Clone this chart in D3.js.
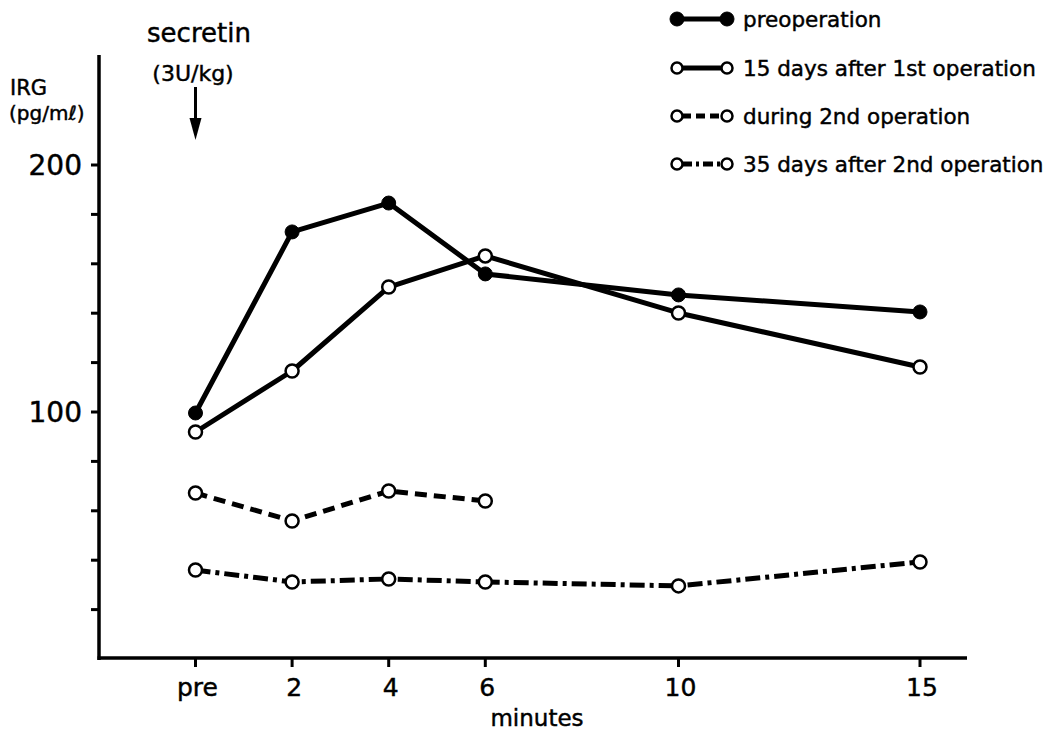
<!DOCTYPE html>
<html lang="en">
<head>
    <meta charset="UTF-8">
    <title>IRG response to secretin</title>
    <style>
        body { margin: 0; background: #fff; }
        text { font-family: "DejaVu Sans", "Liberation Sans", sans-serif; fill: #000; }
        .lbl { stroke: #000; stroke-width: 0.45px; }
    </style>
</head>
<body>
    <div id="chart"></div>

    <script src="https://d3js.org/d3.v7.min.js"></script>
    <script>
        // minutes after secretin (pre = 0)
        const minutes = [0, 2, 4, 6, 10, 15];
        const tickLabels = ["pre", "2", "4", "6", "10", "15"];
        const yTicks = [20, 40, 60, 80, 100, 120, 140, 160, 180, 200];
        const yLabels = [100, 200];

        const preoperation = [99.6, 172.9, 184.6, 155.9, 147.4, 140.5];
        const after1st = [91.9, 116.6, 150.6, 163.2, 140.1, 118.2];
        const during2nd = [67.2, 55.9, 68.0, 64.0];
        const after2nd = [36.0, 31.2, 32.4, 31.2, 29.6, 39.3];

        const seriesNames = [
            "preoperation",
            "15 days after 1st operation",
            "during 2nd operation",
            "35 days after 2nd operation"
        ];

        const width = 1057;
        const height = 734;

        const svg = d3.select("#chart").append("svg")
            .attr("width", width)
            .attr("height", height);

        const x = d3.scaleLinear().domain([0, 15]).range([195.5, 920]);
        const y = d3.scaleLinear().domain([0, 200]).range([659, 165]);

        const axisX = 99;
        const axisTop = 55;
        const axisY = 658;
        const axisRight = 967;

        // axes lines
        svg.append("line")
            .attr("x1", axisX).attr("x2", axisX)
            .attr("y1", axisTop).attr("y2", axisY + 2)
            .attr("stroke", "#000").attr("stroke-width", 3.5);
        svg.append("line")
            .attr("x1", axisX - 1.5).attr("x2", axisRight)
            .attr("y1", axisY).attr("y2", axisY)
            .attr("stroke", "#000").attr("stroke-width", 3.5);

        // y ticks
        svg.selectAll(".ytick")
            .data(yTicks)
            .enter()
            .append("line")
            .attr("x1", axisX - 8).attr("x2", axisX)
            .attr("y1", d => y(d)).attr("y2", d => y(d))
            .attr("stroke", "#000").attr("stroke-width", 3);

        svg.selectAll(".ylabel")
            .data(yLabels)
            .enter()
            .append("text")
            .attr("class", "lbl")
            .attr("x", 82)
            .attr("y", d => y(d) + 10)
            .attr("text-anchor", "end")
            .attr("font-size", 28)
            .text(d => d);

        // x ticks
        svg.selectAll(".xtick")
            .data(minutes)
            .enter()
            .append("line")
            .attr("x1", d => x(d)).attr("x2", d => x(d))
            .attr("y1", axisY).attr("y2", axisY + 9)
            .attr("stroke", "#000").attr("stroke-width", 3);

        svg.selectAll(".xlabel")
            .data(minutes)
            .enter()
            .append("text")
            .attr("class", "lbl")
            .attr("x", d => x(d) + 2)
            .attr("y", 696)
            .attr("text-anchor", "middle")
            .attr("font-size", 25)
            .text((d, i) => tickLabels[i]);

        svg.append("text")
            .attr("class", "lbl")
            .attr("x", 537).attr("y", 726)
            .attr("text-anchor", "middle")
            .attr("font-size", 23)
            .text("minutes");

        // y axis title
        svg.append("text").attr("class", "lbl")
            .attr("x", 10).attr("y", 95).attr("font-size", 21).text("IRG");
        svg.append("text").attr("class", "lbl")
            .attr("x", 9).attr("y", 120).attr("font-size", 20).text("(pg/mℓ)");

        // secretin annotation
        svg.append("text").attr("class", "lbl")
            .attr("x", 199).attr("y", 42)
            .attr("text-anchor", "middle").attr("font-size", 26).text("secretin");
        svg.append("text").attr("class", "lbl")
            .attr("x", 193).attr("y", 81)
            .attr("text-anchor", "middle").attr("font-size", 22).text("(3U/kg)");
        svg.append("line")
            .attr("x1", x(0)).attr("x2", x(0))
            .attr("y1", 87).attr("y2", 120)
            .attr("stroke", "#000").attr("stroke-width", 3);
        svg.append("path")
            .attr("d", `M${x(0) - 6},118 L${x(0) + 6},118 L${x(0)},140 Z`)
            .attr("fill", "#000");

        const line = d3.line()
            .x(d => x(d[0]))
            .y(d => y(d[1]));

        const series = [
            { values: preoperation, dash: null, filled: true },
            { values: after1st, dash: null, filled: false },
            { values: during2nd, dash: "12,7", filled: false },
            { values: after2nd, dash: "15,5,4,5", filled: false }
        ];

        series.forEach(s => {
            const pts = s.values.map((v, i) => [minutes[i], v]);
            svg.append("path")
                .datum(pts)
                .attr("d", line)
                .attr("fill", "none")
                .attr("stroke", "#000")
                .attr("stroke-width", 5)
                .attr("stroke-linejoin", "round")
                .attr("stroke-dasharray", s.dash);
            svg.selectAll(null)
                .data(pts)
                .enter()
                .append("circle")
                .attr("cx", d => x(d[0]))
                .attr("cy", d => y(d[1]))
                .attr("r", s.filled ? 7 : 6.5)
                .attr("fill", s.filled ? "#000" : "#fff")
                .attr("stroke", "#000")
                .attr("stroke-width", s.filled ? 1 : 2.5);
        });

        // legend
        const legendY = [19, 68, 116, 164];
        const legend = svg.selectAll(".legend")
            .data(series)
            .enter()
            .append("g")
            .attr("transform", (d, i) => `translate(0, ${legendY[i]})`);

        legend.append("line")
            .attr("x1", 677).attr("x2", 727)
            .attr("y1", 0).attr("y2", 0)
            .attr("stroke", "#000")
            .attr("stroke-width", 5)
            .attr("stroke-dasharray", d => d.dash ? (d.dash === "12,7" ? "9,5" : "10,4,3,4") : null)
            .attr("stroke-dashoffset", d => d.dash ? -5 : 0);

        legend.selectAll("circle")
            .data(d => [677, 727].map(cx => ({ cx, filled: d.filled })))
            .enter()
            .append("circle")
            .attr("cx", d => d.cx)
            .attr("cy", 0)
            .attr("r", d => d.filled ? 7 : 5.5)
            .attr("fill", d => d.filled ? "#000" : "#fff")
            .attr("stroke", "#000")
            .attr("stroke-width", d => d.filled ? 1 : 2.5);

        legend.append("text")
            .attr("class", "lbl")
            .attr("x", 743)
            .attr("y", 8)
            .attr("font-size", 21.5)
            .text((d, i) => seriesNames[i]);
    </script>
</body>
</html>
